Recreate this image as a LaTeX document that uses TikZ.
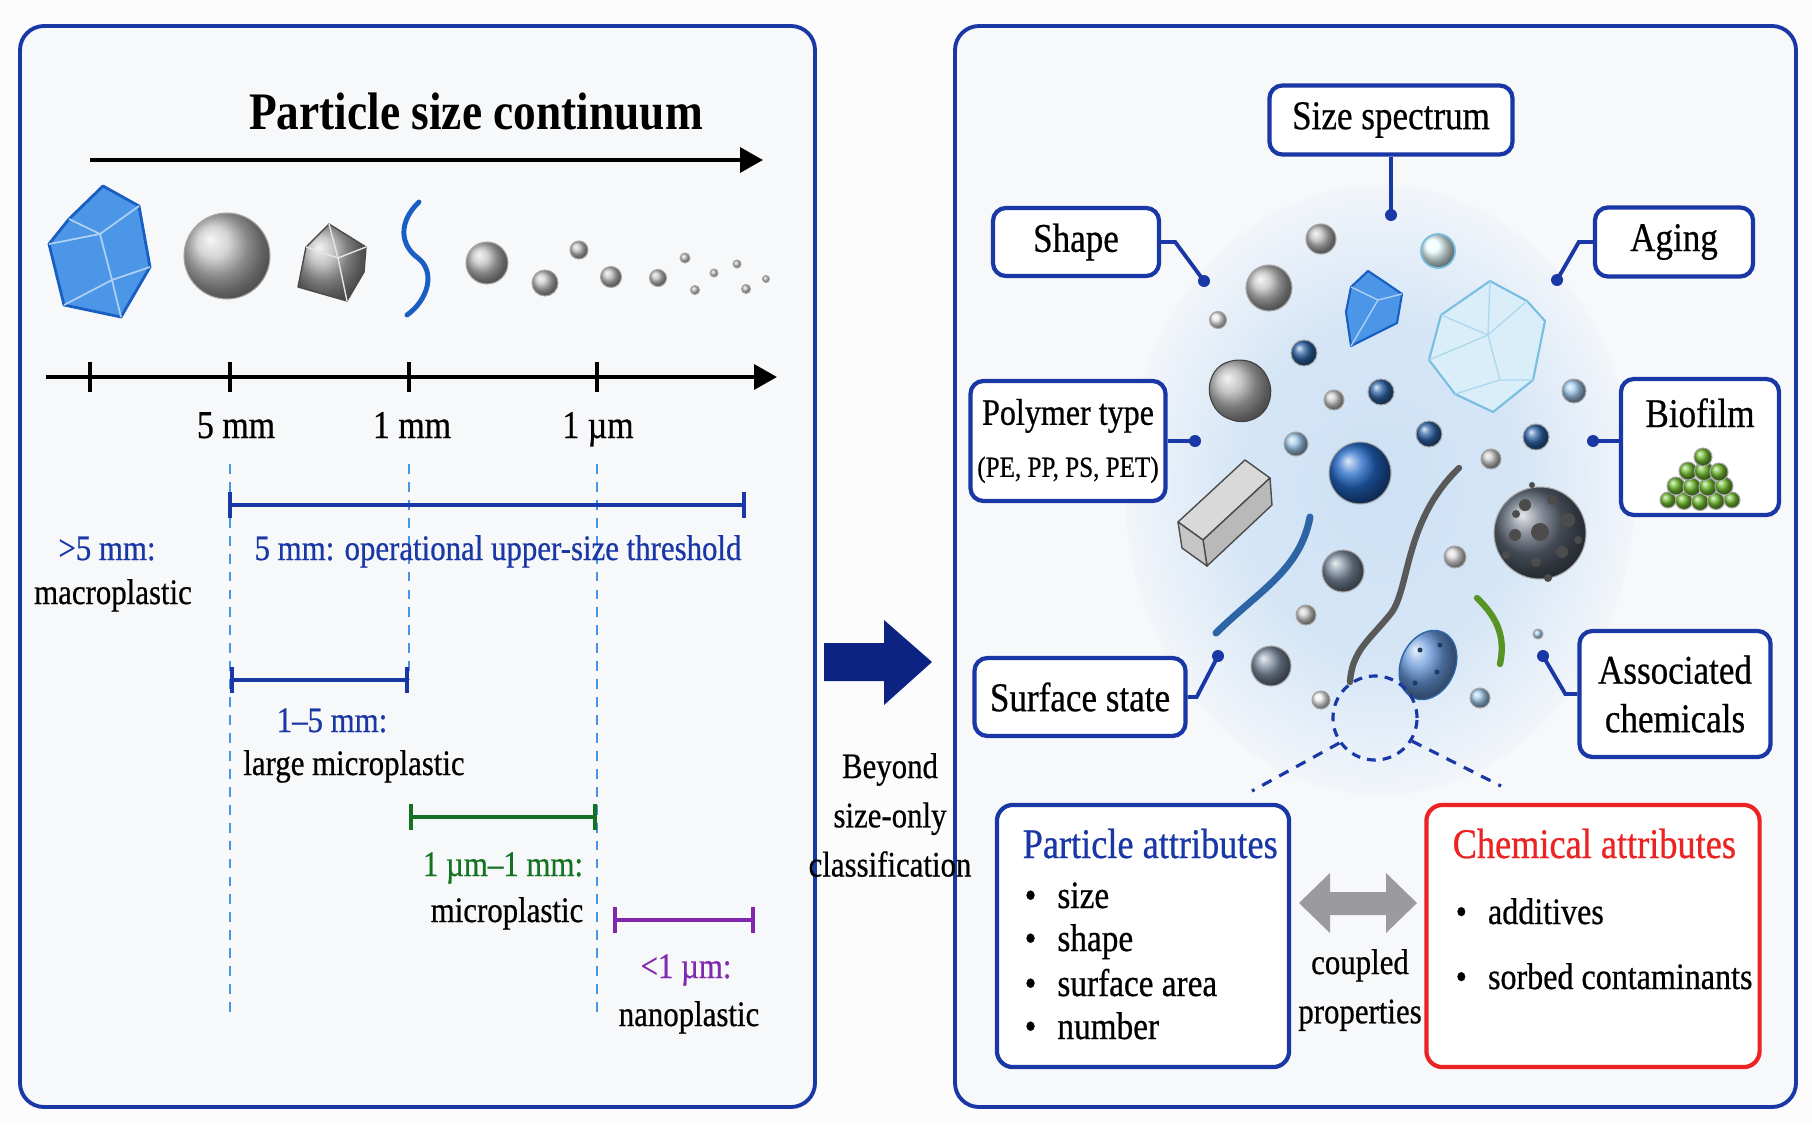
\documentclass[tikz,border=0pt]{standalone}
\usepackage{fontspec}
\setmainfont{Liberation Serif}[FakeStretch=0.86, UprightFeatures={FakeBold=0.6}]
\usetikzlibrary{arrows.meta}
\definecolor{pagebg}{RGB}{252,252,253}
\definecolor{panelfill}{RGB}{247,248,250}
\definecolor{panelblue}{RGB}{25,55,165}
\definecolor{guideblue}{RGB}{70,150,230}
\definecolor{rangegreen}{RGB}{20,115,35}
\definecolor{rangepurple}{RGB}{130,40,175}
\definecolor{attrred}{RGB}{235,35,35}
\definecolor{navy}{RGB}{12,35,130}
\definecolor{glowblue}{RGB}{205,225,245}
\definecolor{crystblue}{RGB}{75,150,230}
\definecolor{crystedge}{RGB}{25,95,195}
\definecolor{steelb}{RGB}{45,100,165}
\definecolor{skyb}{RGB}{160,200,235}
\definecolor{slateb}{RGB}{125,140,160}
\definecolor{brightb}{RGB}{35,105,200}
\definecolor{palecryst}{RGB}{218,238,249}
\definecolor{paleedge}{RGB}{120,190,225}
\definecolor{biogreen}{RGB}{110,185,45}
\definecolor{porous}{RGB}{95,105,120}
\definecolor{arrowgray}{RGB}{155,155,158}
\pgfdeclareradialshading{glow}{\pgfpointorigin}{color(0bp)=(glowblue); color(14bp)=(glowblue!80!panelfill); color(27bp)=(panelfill); color(50bp)=(panelfill)}
\newcommand{\ftitle}{\fontsize{15}{17}\selectfont\bfseries}
\newcommand{\ftick}{\fontsize{11.2}{13}\selectfont}
\newcommand{\frange}{\fontsize{10.2}{14}\selectfont}
\newcommand{\ftag}{\fontsize{11.6}{13.8}\selectfont}
\newcommand{\fpoly}{\fontsize{8.3}{10}\selectfont}
\newcommand{\fattr}{\fontsize{12}{14}\selectfont}
\newcommand{\fitem}{\fontsize{11}{13}\selectfont}

\begin{document}
\begin{tikzpicture}[
		x=0.01cm, y=-0.01cm,
		panel/.style={draw=panelblue, fill=panelfill, line width=1.1pt, rounded corners=2.4mm},
		tag/.style={draw=panelblue, fill=white, line width=1.2pt, rounded corners=1.3mm,
		inner sep=0pt, font=\ftag, align=center},
		attr/.style={fill=white, line width=1.2pt, rounded corners=1.6mm, inner sep=0pt},
		link/.style={draw=panelblue, line width=1.1pt},
		dot/.style={fill=panelblue},
		guide/.style={draw=guideblue, line width=0.6pt, dash pattern=on 2.8pt off 2.3pt},
		sizebar/.style={line width=1.2pt, {Bar[width=7.5pt]}-{Bar[width=7.5pt]}},
		scalearrow/.style={line width=1.2pt, -{Triangle[length=6.5pt,width=7pt]}},
		lbl/.style={font=\frange, anchor=base},
		item/.style={font=\fitem, anchor=base west, inner sep=0pt},
		bead/.style={ball color=#1, draw=black!35, line width=0.3pt}
		]
		\fill[pagebg] (0,0) rectangle (1812,1124);
		\useasboundingbox (0,0) rectangle (1812,1124);

		% left panel: size continuum
		\draw[panel] (20,26) rectangle (815,1107);
		\node[font=\ftitle, anchor=base] (title) at (476,129) {Particle size continuum};
		\draw[scalearrow] (90,160) -- (763,160);

		\fill[crystblue, draw=crystedge, line width=0.8pt, line join=round] (103,186) -- (139,206) -- (150,267) -- (121,317) -- (64,305) -- (49,244) -- (69,219) -- cycle;
		\draw[white!55!crystblue, line width=0.5pt] (69,219) -- (100,234) -- (139,206) (100,234) -- (112,280) -- (150,267) (112,280) -- (64,305) (112,280) -- (121,317) (100,234) -- (49,244);
		\shade[bead=gray!45] (227,256) circle (43);
		\shade[ball color=gray!60, draw=gray!60!black, line width=0.4pt, line join=round] (329,224) -- (366,247) -- (364,272) -- (347,301) -- (298,287) -- (306,247) -- cycle;
		\draw[white!80!gray, line width=0.4pt] (306,247) -- (338,258) -- (366,247) (338,258) -- (347,301) (338,258) -- (329,224);
		\draw[crystedge, line width=1.4pt, line cap=round] (419,202) .. controls (398,222) and (400,245) .. (418,258) .. controls (436,272) and (428,300) .. (407,315);
		\foreach \px/\py/\r in {487/263/21, 545/283/13, 579/250/9, 611/277/10.5, 658/278/8.5,
			685/258/5, 714/273/4, 695/290/4.5, 737/264/4, 746/289/4.5, 766/279/3.5}
			\shade[bead=gray!50] (\px,\py) circle (\r);

		\draw[scalearrow] (46,377) -- (777,377);
		\foreach \tx in {90,230,409,597}
			\draw[line width=1.2pt] (\tx,362) -- (\tx,392);
		\node[font=\ftick, anchor=base] (t5) at (236,438) {5 mm};
		\node[font=\ftick, anchor=base] (t1) at (412,438) {1 mm};
		\node[font=\ftick, anchor=base] (tu) at (598,438) {1 µm};

		\draw[guide] (230,464) -- (230,1016);
		\draw[guide] (409,464) -- (409,680);
		\draw[guide] (597,464) -- (597,1019);

		\draw[sizebar, panelblue] (228,505) -- (746,505);
		\node[lbl, text=panelblue] (upper) at (498,560) {5 mm: operational upper-size threshold};
		\node[lbl, text=panelblue] (macro) at (107,560) {>5 mm:};
		\node[lbl] (macrot) at (113,604) {macroplastic};
		\draw[sizebar, panelblue] (230,680) -- (409,680);
		\node[lbl, text=panelblue] (large) at (332,732) {1–5 mm:};
		\node[lbl] (larget) at (354,775) {large microplastic};
		\draw[sizebar, rangegreen] (409,817) -- (597,817);
		\node[lbl, text=rangegreen] (micro) at (503,876) {1 µm–1 mm:};
		\node[lbl] (microt) at (507,922) {microplastic};
		\draw[sizebar, rangepurple] (613,920) -- (755,920);
		\node[lbl, text=rangepurple] (nano) at (686,978) {<1 µm:};
		\node[lbl] (nanot) at (689,1026) {nanoplastic};

		\fill[navy] (824,643) -- (884,643) -- (884,620) -- (932,662) -- (884,705) -- (884,681) -- (824,681) -- cycle;

		% right panel: particle attributes
		\draw[panel] (955,26) rectangle (1796,1107);
		\node[font=\frange, align=center] (beyond) at (890,815) {Beyond\\size-only\\classification};
		\shade[shading=glow] (1380,490) ellipse [x radius=255, y radius=305];

		\draw[line width=2pt, steelb, line cap=round] (1310,517) .. controls (1300,570) and (1260,590) .. (1216,633);
		\draw[line width=1.8pt, black!65, line cap=round] (1459,468) .. controls (1405,520) and (1410,585) .. (1392,612) .. controls (1370,640) and (1352,650) .. (1350,682);
		\draw[line width=1.8pt, biogreen!80!black, line cap=round] (1477,598) .. controls (1500,620) and (1505,640) .. (1500,664);

		\fill[palecryst, draw=paleedge, line width=0.6pt, line join=round] (1490,281) -- (1527,301) -- (1545,321) -- (1533,380) -- (1493,412) -- (1455,394) -- (1429,360) -- (1441,315) -- cycle;
		\draw[paleedge!60, line width=0.4pt] (1441,315) -- (1488,335) -- (1527,301) (1488,335) -- (1490,281) (1488,335) -- (1500,380) -- (1533,380) (1500,380) -- (1455,394) (1488,335) -- (1429,360);
		\fill[crystblue, draw=crystedge, line width=0.6pt, line join=round] (1368,271) -- (1386,283) -- (1402,294) -- (1397,323) -- (1351,346) -- (1346,312) -- (1351,287) -- cycle;
		\draw[white!55!crystblue, line width=0.4pt] (1351,287) -- (1378,300) -- (1402,294) (1378,300) -- (1351,346);
		\shade[ball color=gray!60, draw=gray!50!black, line width=0.3pt, rounded corners=3pt] (1240,358) -- (1262,366) -- (1273,390) -- (1265,414) -- (1242,424) -- (1217,414) -- (1207,390) -- (1216,366) -- cycle;
		\fill[gray!30, draw=gray!60!black, line width=0.4pt, line join=round] (1178,522) -- (1245,460) -- (1270,478) -- (1203,540) -- cycle;
		\fill[gray!55, draw=gray!60!black, line width=0.4pt, line join=round] (1203,540) -- (1270,478) -- (1272,505) -- (1207,566) -- cycle;
		\fill[gray!45, draw=gray!60!black, line width=0.4pt, line join=round] (1178,522) -- (1203,540) -- (1207,566) -- (1182,548) -- cycle;
		\shade[bead=porous] (1540,533) circle (46);
		\foreach \px/\py/\r in {1540/532/9, 1525/505/6, 1552/500/5, 1568/520/7, 1515/535/6, 1562/552/6,
			1536/562/5, 1578/540/4, 1548/578/4, 1506/555/4, 1532/485/3, 1516/514/4}
			\fill[black!70] (\px,\py) circle (\r);
		\foreach \px/\py/\r/\c in {1321/239/15/gray!50, 1269/288/23/gray!50, 1218/320/8.5/gray!20,
			1304/353/13/steelb, 1334/400/10/gray!40, 1381/392/13/steelb, 1574/391/12/skyb,
			1296/444/12/skyb, 1429/434/13/steelb, 1360/473/31/brightb, 1491/459/10/gray!40,
			1536/437/13/steelb, 1343/571/21/slateb, 1455/557/11/gray!30, 1306/615/10/gray!40,
			1271/666/20/slateb, 1538/634/5/skyb, 1480/698/10/skyb, 1321/700/9/gray!15}
			\shade[bead=\c] (\px,\py) circle (\r);
		\shade[ball color=cyan!8, draw=paleedge, line width=0.5pt] (1438,251) circle (17);
		\shade[ball color=brightb!70, draw=steelb, line width=0.4pt, rotate around={-25:(1428,665)}] (1428,665) ellipse [x radius=27, y radius=36];
		\foreach \px/\py in {1420/650, 1437/672, 1415/683, 1440/645}
			\fill[steelb!60!black] (\px,\py) circle (2.5);

		\node[tag, minimum width=2.43cm, minimum height=0.69cm] (size) at (1391,120) {Size spectrum};
		\node[tag, minimum width=1.66cm, minimum height=0.68cm] (shape) at (1076,242) {Shape};
		\node[tag, minimum width=1.58cm, minimum height=0.69cm] (aging) at (1674,242) {Aging};
		\node[tag, minimum width=1.95cm, minimum height=1.20cm] (poly) at (1068,441) {{\fontsize{10.6}{13}\selectfont Polymer type}\\[1pt]{\fpoly(PE, PP, PS, PET)}};
		\node[tag, minimum width=1.58cm, minimum height=1.36cm] (bio) at (1700,447) {};
		\node[font=\ftag, anchor=base] (biot) at (1700,427) {Biofilm};
		\foreach \px/\py/\r in {1668/500/8, 1684/501/8.5, 1700/502/8.5, 1716/501/8.5, 1732/500/8,
			1676/486/9, 1692/487/9, 1708/487/9, 1724/486/9, 1688/471/9, 1704/471/9.5, 1719/472/9,
			1703/457/9}
			\shade[bead=biogreen] (\px,\py) circle (\r);
		\node[tag, minimum width=2.11cm, minimum height=0.78cm] (surf) at (1080,697) {Surface state};
		\node[tag, minimum width=1.91cm, minimum height=1.26cm] (assoc) at (1675,694) {Associated\\chemicals};

		\coordinate (dsize) at (1391,215);
		\coordinate (dshape) at (1204,281);
		\coordinate (daging) at (1557,280);
		\coordinate (dpoly) at (1195,441);
		\coordinate (dbio) at (1593,441);
		\coordinate (dsurf) at (1218,656);
		\coordinate (dassoc) at (1543,656);
		\draw[link] (size.south) -- (dsize);
		\draw[link] (shape.east) -- ++(14,0) -- (dshape);
		\draw[link] (aging.west) -- ++(-14,0) -- (daging);
		\draw[link] (poly.east) -- (dpoly);
		\draw[link] (bio.west |- dbio) -- (dbio);
		\draw[link] (surf.east) -- ++(9,0) -- (dsurf);
		\draw[link] (assoc.west) -- ++(-12,0) -- (dassoc);
		\foreach \d in {dsize,dshape,daging,dpoly,dbio,dsurf,dassoc}
			\fill[dot] (\d) circle (6);

		\node[circle, draw=panelblue, line width=0.9pt, dash pattern=on 2.5pt off 2pt,
		minimum size=0.84cm, inner sep=0pt] (lens) at (1375,718) {};
		\coordinate (lensl) at (1252,791);
		\coordinate (lensr) at (1501,786);
		\draw[panelblue, line width=0.9pt, dash pattern=on 3pt off 2.5pt] (lens.215) -- (lensl);
		\draw[panelblue, line width=0.9pt, dash pattern=on 3pt off 2.5pt] (lens.328) -- (lensr);

		\node[attr, draw=panelblue, minimum width=2.92cm, minimum height=2.62cm] (pattr) at (1143,936) {};
		\node[attr, draw=attrred, minimum width=3.33cm, minimum height=2.62cm] (cattr) at (1593,936) {};
		\node[item, font=\fattr, text=panelblue] (ptitle) at (1022,858) {Particle attributes};
		\node[item] (psize) at (1024,908) {\textbullet\hspace{6pt}size};
		\node[item] (pshape) at (1024,951) {\textbullet\hspace{6pt}shape};
		\node[item] (parea) at (1024,996) {\textbullet\hspace{6pt}surface area};
		\node[item] (pnum) at (1024,1039) {\textbullet\hspace{6pt}number};
		\node[item, font=\fattr, text=attrred] (ctitle) at (1452,858) {Chemical attributes};
		\node[item, font=\fontsize{10.6}{13}\selectfont] (cadd) at (1455,924) {\textbullet\hspace{6pt}additives};
		\node[item, font=\fontsize{10.6}{13}\selectfont] (csorb) at (1455,989) {\textbullet\hspace{6pt}sorbed contaminants};

		\fill[arrowgray] (1299,903) -- (1330,873) -- (1330,892) -- (1386,892) -- (1386,873) -- (1417,903) -- (1386,933) -- (1386,915) -- (1330,915) -- (1330,933) -- cycle;
		\node[font=\frange, align=center] (coupled) at (1360,990) {coupled\\properties};
	\end{tikzpicture}
\end{document}
